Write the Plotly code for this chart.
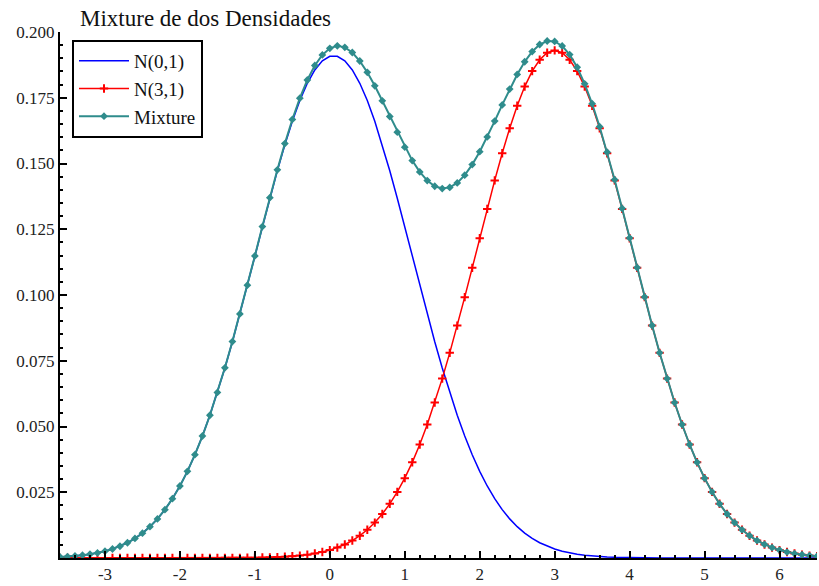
import plotly.graph_objects as go

x_vals = [round(-3.6 + 0.1 * i, 1) for i in range(102)]

n01 = [0.00040, 0.00056, 0.00078, 0.00107, 0.00145, 0.00194, 0.00259, 0.00342, 0.00447, 0.00579,
       0.00743, 0.00945, 0.01191, 0.01487, 0.01839, 0.02255, 0.02738, 0.03294, 0.03926, 0.04636,
       0.05425, 0.06291, 0.07226, 0.08225, 0.09276, 0.10364, 0.11473, 0.12585, 0.13677, 0.14727,
       0.15711, 0.16607, 0.17393, 0.18049, 0.18556, 0.18902, 0.19078, 0.19078, 0.18902, 0.18556,
       0.18049, 0.17393, 0.16607, 0.15711, 0.14727, 0.13677, 0.12585, 0.11473, 0.10364, 0.09276,
       0.08225, 0.07226, 0.06291, 0.05425, 0.04636, 0.03926, 0.03294, 0.02738, 0.02255, 0.01839,
       0.01487, 0.01191, 0.00945, 0.00743, 0.00579, 0.00447, 0.00342, 0.00259, 0.00194, 0.00145,
       0.00107, 0.00078, 0.00056, 0.00040, 0.00028, 0.00020, 0.00014, 0.00010, 0.00007, 0.00005,
       0.00003, 0.00002, 0.00001, 0.0, 0.0, 0.0, 0.0, 0.0, 0.0, 0.0,
       0.0, 0.0, 0.0, 0.0, 0.0, 0.0, 0.0, 0.0, 0.0, 0.0,
       0.0, 0.0]

n31 = [0.0, 0.0, 0.0, 0.0, 0.0, 0.0, 0.0, 0.0, 0.0, 0.0,
       0.0, 0.0, 0.0, 0.0, 0.0, 0.0, 0.0, 0.00001, 0.00001, 0.00002,
       0.00003, 0.00003, 0.00005, 0.00005, 0.00005, 0.00008, 0.00012, 0.00017, 0.00024, 0.00034,
       0.00048, 0.00067, 0.00092, 0.00126, 0.00170, 0.00227, 0.00301, 0.00395, 0.00515, 0.00664,
       0.00848, 0.01073, 0.01346, 0.01673, 0.02060, 0.02513, 0.03037, 0.03638, 0.04316, 0.05074,
       0.05910, 0.06821, 0.07800, 0.08836, 0.09919, 0.11032, 0.12156, 0.13273, 0.14357, 0.15388,
       0.16341, 0.17194, 0.17924, 0.18514, 0.18946, 0.19211, 0.19300, 0.19211, 0.18946, 0.18514,
       0.17924, 0.17194, 0.16341, 0.15388, 0.14357, 0.13273, 0.12156, 0.11032, 0.09919, 0.08836,
       0.07800, 0.06821, 0.05910, 0.05074, 0.04316, 0.03638, 0.03037, 0.02513, 0.02060, 0.01673,
       0.01346, 0.01073, 0.00848, 0.00664, 0.00515, 0.00395, 0.00301, 0.00227, 0.00170, 0.00126,
       0.00092, 0.00067]

mixture = [0.00040, 0.00056, 0.00078, 0.00107, 0.00145, 0.00194, 0.00259, 0.00342, 0.00447, 0.00579,
           0.00743, 0.00945, 0.01191, 0.01487, 0.01839, 0.02255, 0.02738, 0.03295, 0.03927, 0.04638,
           0.05428, 0.06294, 0.07231, 0.08230, 0.09281, 0.10372, 0.11485, 0.12602, 0.13701, 0.14761,
           0.15759, 0.16674, 0.17485, 0.18175, 0.18726, 0.19129, 0.19379, 0.19473, 0.19417, 0.19220,
           0.18897, 0.18466, 0.17953, 0.17384, 0.16787, 0.16190, 0.15622, 0.15111, 0.14680, 0.14350,
           0.14135, 0.14047, 0.14091, 0.14261, 0.14555, 0.14958, 0.15450, 0.16011, 0.16612, 0.17227,
           0.17828, 0.18385, 0.18869, 0.19257, 0.19525, 0.19658, 0.19642, 0.19470, 0.19140, 0.18659,
           0.18031, 0.17272, 0.16397, 0.15428, 0.14385, 0.13293, 0.12170, 0.11042, 0.09926, 0.08841,
           0.07803, 0.06823, 0.05911, 0.05075, 0.04316, 0.03638, 0.03037, 0.02513, 0.02060, 0.01673,
           0.01346, 0.01073, 0.00848, 0.00664, 0.00515, 0.00395, 0.00301, 0.00227, 0.00170, 0.00126,
           0.00092, 0.00067]

x_ticks = [-3, -2, -1, 0, 1, 2, 3, 4, 5, 6]
x_tick_labels = ["-3", "-2", "-1", "0", "1", "2", "3", "4", "5", "6"]
y_ticks = [0.025, 0.050, 0.075, 0.100, 0.125, 0.150, 0.175, 0.200]
y_tick_labels = ["0.025", "0.050", "0.075", "0.100", "0.125", "0.150", "0.175", "0.200"]

FONT = "Liberation Serif, Times New Roman, serif"
TEAL = "#2f8c8c"

fig = go.Figure()
fig.add_trace(go.Scatter(x=x_vals, y=n01, mode="lines", name="N(0,1)",
                         line=dict(color="#0000ff", width=1.5)))
fig.add_trace(go.Scatter(x=x_vals, y=n31, mode="lines+markers", name="N(3,1)",
                         line=dict(color="#ff0000", width=1.5),
                         marker=dict(symbol="cross-thin", size=6, color="#ff0000",
                                     line=dict(color="#ff0000", width=2))))
fig.add_trace(go.Scatter(x=x_vals, y=mixture, mode="lines+markers", name="Mixture",
                         line=dict(color=TEAL, width=2),
                         marker=dict(symbol="diamond", size=6, color=TEAL)))

fig.update_layout(
    width=819, height=586,
    margin=dict(l=60, r=2, t=32, b=24),
    paper_bgcolor="white", plot_bgcolor="white",
    font=dict(family=FONT, color="#222222"),
    showlegend=True,
    legend=dict(x=(72 - 60) / 757, y=1 - (40 - 32) / 530, xanchor="left", yanchor="top",
                bordercolor="black", borderwidth=2, bgcolor="white",
                font=dict(family=FONT, size=19, color="#111111"),
                tracegroupgap=0, itemwidth=50),
    annotations=[dict(text="Mixture de dos Densidades", xref="paper", yref="paper",
                      x=(78 - 60) / 757, y=1 + (32 - 18) / 530, xanchor="left", yanchor="middle",
                      showarrow=False, font=dict(family=FONT, size=23, color="#111111"))],
)
fig.update_xaxes(range=[-3.6, 6.5], tickvals=x_ticks, ticktext=x_tick_labels, ticks="inside",
                 ticklen=7, tickwidth=1.5,
                 tickcolor="black", showline=True, linecolor="black", linewidth=2,
                 showgrid=False, zeroline=False, tickfont=dict(family=FONT, size=17),
                 minor=dict(dtick=0.2, tick0=0, ticks="inside", ticklen=3, tickcolor="black",
                            tickwidth=1.5, showgrid=False))
fig.update_yaxes(range=[0, 0.2], tickvals=y_ticks, ticktext=y_tick_labels, ticks="inside",
                 ticklen=7, tickwidth=1.5, tickcolor="black", showline=True, linecolor="black",
                 linewidth=2, showgrid=False, zeroline=False, tickfont=dict(family=FONT, size=17),
                 minor=dict(dtick=0.005, tick0=0, ticks="inside", ticklen=3, tickcolor="black",
                            tickwidth=1.5, showgrid=False))

fig.write_html("out.html")
